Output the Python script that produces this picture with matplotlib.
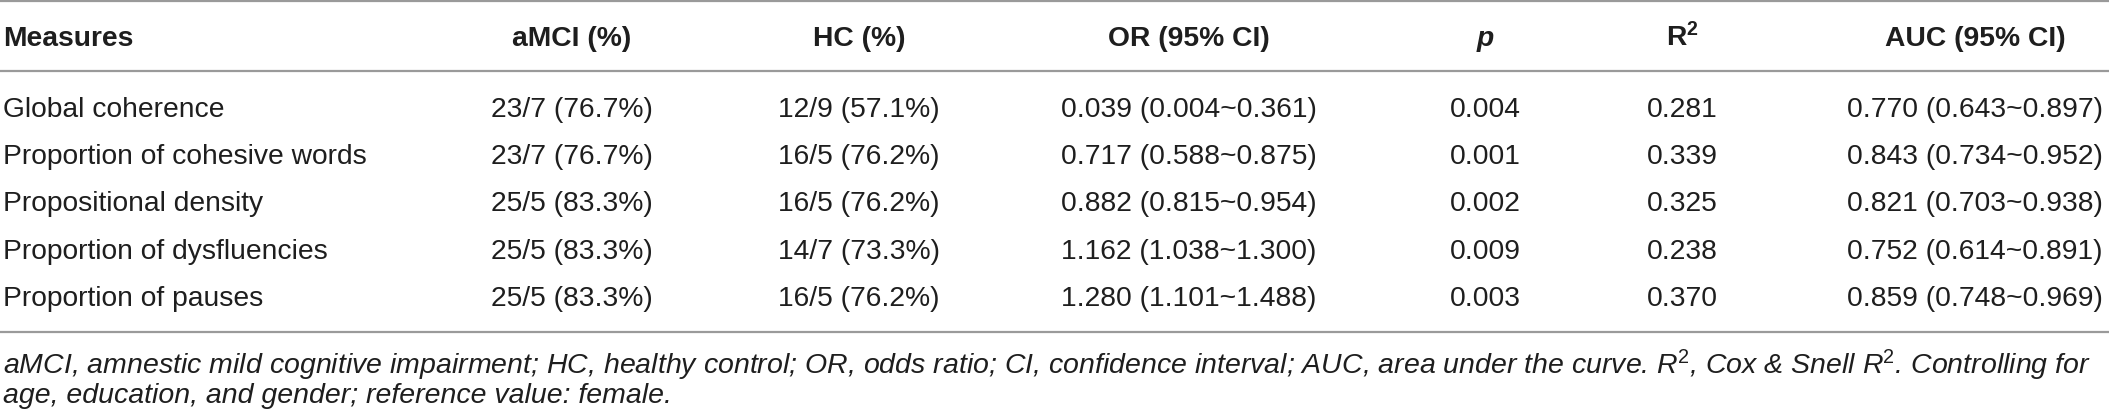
import matplotlib
matplotlib.use("Agg")
import matplotlib.pyplot as plt

plt.rcParams["mathtext.fontset"] = "custom"
plt.rcParams["mathtext.rm"] = "Liberation Sans"
plt.rcParams["mathtext.it"] = "Liberation Sans:italic"
plt.rcParams["mathtext.bf"] = "Liberation Sans:bold"

# ---- data ----
headers = ["Measures", "aMCI (%)", "HC (%)", "OR (95% CI)", "p", r"R$^{\mathbf{2}}$", "AUC (95% CI)"]
measures = ["Global coherence", "Proportion of cohesive words", "Propositional density",
            "Proportion of dysfluencies", "Proportion of pauses"]
amci = ["23/7 (76.7%)", "23/7 (76.7%)", "25/5 (83.3%)", "25/5 (83.3%)", "25/5 (83.3%)"]
hc = ["12/9 (57.1%)", "16/5 (76.2%)", "16/5 (76.2%)", "14/7 (73.3%)", "16/5 (76.2%)"]
odds = ["0.039 (0.004~0.361)", "0.717 (0.588~0.875)", "0.882 (0.815~0.954)",
        "1.162 (1.038~1.300)", "1.280 (1.101~1.488)"]
pvals = ["0.004", "0.001", "0.002", "0.009", "0.003"]
r2 = ["0.281", "0.339", "0.325", "0.238", "0.370"]
auc = ["0.770 (0.643~0.897)", "0.843 (0.734~0.952)", "0.821 (0.703~0.938)",
       "0.752 (0.614~0.891)", "0.859 (0.748~0.969)"]
footnote = ["aMCI, amnestic mild cognitive impairment; HC, healthy control; OR, odds ratio; "
            r"CI, confidence interval; AUC, area under the curve. R$^{\mathit{2}}$, "
            r"Cox & Snell R$^{\mathit{2}}$. Controlling for",
            "age, education, and gender; reference value: female."]

# ---- layout ----
W, H = 2109, 419
fig = plt.figure(figsize=(W / 100, H / 100), dpi=100)
ax = fig.add_axes([0, 0, 1, 1])
ax.set_xlim(0, W)
ax.set_ylim(H, 0)
ax.axis("off")

FONT = ["Liberation Sans", "DejaVu Sans"]
TXT = "#1e1e1e"
LINE = "#9a9a9a"
fs = 20.3
col_x = [3, 572, 859, 1189, 1485, 1682, 1975]
col_ha = ["left", "center", "center", "center", "center", "center", "center"]
header_base = 46.5
row_base0 = 116.5
row_step = 47.4

for ly in (1.5, 71, 332):
    ax.plot([0, W], [ly, ly], color=LINE, lw=1.6, solid_capstyle="butt")

for i, h in enumerate(headers):
    ax.text(col_x[i], header_base, h, ha=col_ha[i], va="baseline", fontsize=fs,
            fontweight="bold", style="italic" if h == "p" else "normal",
            family=FONT, color=TXT)

columns = [measures, amci, hc, odds, pvals, r2, auc]
for r in range(len(measures)):
    y = row_base0 + r * row_step
    for c, col in enumerate(columns):
        ax.text(col_x[c], y, col[r], ha=col_ha[c], va="baseline", fontsize=fs,
                family=FONT, color=TXT)

for k, line in enumerate(footnote):
    ax.text(3, 374 + k * 29, line, ha="left", va="baseline", fontsize=20.5,
            style="italic", family=FONT, color=TXT)

fig.savefig("out.png", dpi=100)
